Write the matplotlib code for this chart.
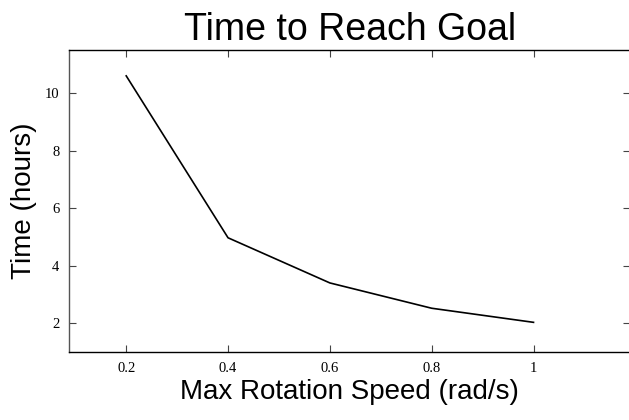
import matplotlib
matplotlib.use("Agg")
import matplotlib.pyplot as plt

speed = [0.2, 0.4, 0.6, 0.8, 1.0]
hours = [10.6, 4.97, 3.4, 2.52, 2.03]
xticks = [0.2, 0.4, 0.6, 0.8, 1.0]
xtick_labels = ["0.2", "0.4", "0.6", "0.8", "1"]
yticks = [2, 4, 6, 8, 10]

fig = plt.figure(figsize=(6.29, 4.2), dpi=100)
ax = fig.add_axes([0.110, 0.162, 0.892, 0.719])

ax.plot(speed, hours, color="black", linewidth=1.2)

ax.set_xlim(0.088, 1.19)
ax.set_ylim(1.0, 11.5)
ax.set_xticks(xticks)
ax.set_xticklabels(xtick_labels)
ax.set_yticks(yticks)

# ticks pointing in, on every side
ax.tick_params(direction="in", top=True, right=True, length=5, width=0.8,
               color="#444444", labelsize=10.5, pad=7)
for lab in ax.get_xticklabels() + ax.get_yticklabels():
    lab.set_family("Liberation Serif")

ax.spines["right"].set_visible(False)
for s in ["left", "bottom", "top"]:
    ax.spines[s].set_linewidth(1.0)
ax.spines["left"].set_color("#555555")

ax.set_title("Time to Reach Goal", fontsize=27, family="Liberation Sans", pad=7)
ax.set_xlabel("Max Rotation Speed (rad/s)", fontsize=20, family="Liberation Sans", labelpad=3)
ax.set_ylabel("Time (hours)", fontsize=20, family="Liberation Sans", labelpad=6)

fig.savefig("out.png", dpi=100)
